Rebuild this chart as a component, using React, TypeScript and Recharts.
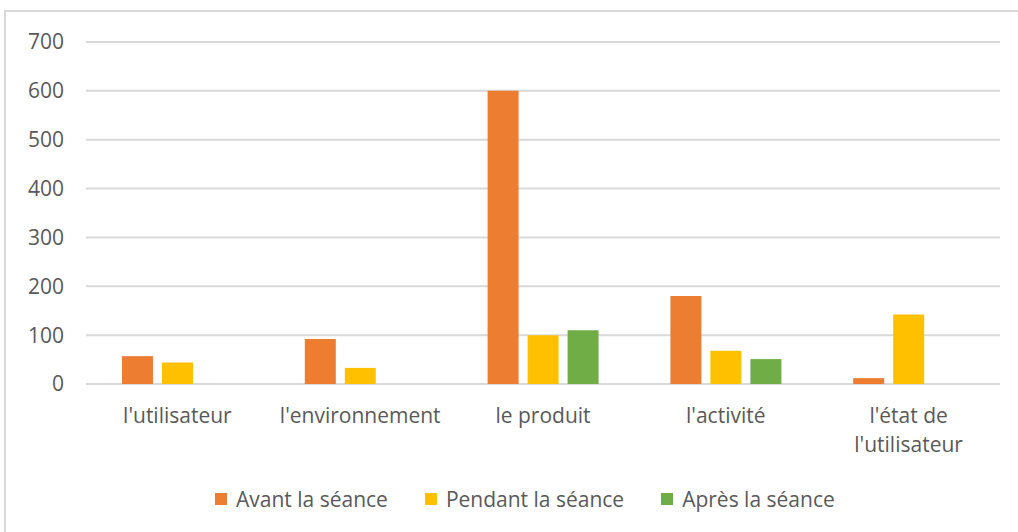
import React from "react";
import { BarChart, Bar, XAxis, YAxis, CartesianGrid, Legend } from "recharts";

const categories = [
  "l'utilisateur",
  "l'environnement",
  "le produit",
  "l'activité",
  "l'état de l'utilisateur",
];
// how each category label is broken across lines under the axis
const tickLines = [
  ["l'utilisateur"],
  ["l'environnement"],
  ["le produit"],
  ["l'activité"],
  ["l'état de", "l'utilisateur"],
];
const avant = [57, 92, 600, 180, 12];
const pendant = [44, 33, 100, 68, 142];
const apres = [null, null, 110, 51, null];
const yTicks = [0, 100, 200, 300, 400, 500, 600, 700];

const series = [
  { key: "avant", name: "Avant la séance", color: "#ED7D31" },
  { key: "pendant", name: "Pendant la séance", color: "#FFC000" },
  { key: "apres", name: "Après la séance", color: "#70AD47" },
];

const data = categories.map((name, i) => ({
  name,
  avant: avant[i],
  pendant: pendant[i],
  apres: apres[i],
}));

const FONT = "Open Sans";
const GREY = "#595959";
const FS = 21;

const CategoryTick = (props: any) => {
  const { x, y, payload } = props;
  const lines = tickLines[categories.indexOf(payload.value)] || [payload.value];
  return (
    <text x={x} y={y} textAnchor="middle" fill={GREY} fontSize={FS} fontFamily={FONT}>
      {lines.map((line: string, i: number) => (
        <tspan key={i} x={x} dy={i === 0 ? 15 : 29}>
          {line}
        </tspan>
      ))}
    </text>
  );
};

const renderLegend = () => (
  <div
    style={{
      display: "flex",
      height: 49,
      paddingLeft: 209,
      alignItems: "flex-start",
      fontFamily: FONT,
      fontSize: FS,
      color: GREY,
    }}
  >
    {series.map((s) => (
      <div key={s.key} style={{ display: "flex", alignItems: "center", marginRight: 37 }}>
        <span style={{ width: 12, height: 12, background: s.color, marginRight: 9 }} />
        <span>{s.name}</span>
      </div>
    ))}
  </div>
);

export default function App() {
  return (
    <div
      style={{
        position: "absolute",
        left: 4,
        top: 10,
        width: 1030,
        height: 540,
        border: "2px solid #d9d9d9",
        background: "#fff",
      }}
    >
      <BarChart
        width={1014}
        height={522}
        data={data}
        margin={{ top: 30, right: 20, left: 0, bottom: 0 }}
        barSize={31}
        barGap={9}
      >
        <CartesianGrid vertical={false} stroke="#d9d9d9" strokeWidth={2} />
        <XAxis
          dataKey="name"
          axisLine={false}
          tickLine={false}
          tickSize={6}
          tickMargin={18}
          height={101}
          interval={0}
          tick={<CategoryTick />}
        />
        <YAxis
          domain={[0, 700]}
          ticks={yTicks}
          width={80}
          axisLine={false}
          tickLine={false}
          tickSize={6}
          tickMargin={16}
          tick={{ fill: GREY, fontSize: FS, fontFamily: FONT }}
        />
        <Legend verticalAlign="bottom" content={renderLegend} />
        {series.map((s) => (
          <Bar key={s.key} dataKey={s.key} name={s.name} fill={s.color} isAnimationActive={false} />
        ))}
      </BarChart>
    </div>
  );
}
